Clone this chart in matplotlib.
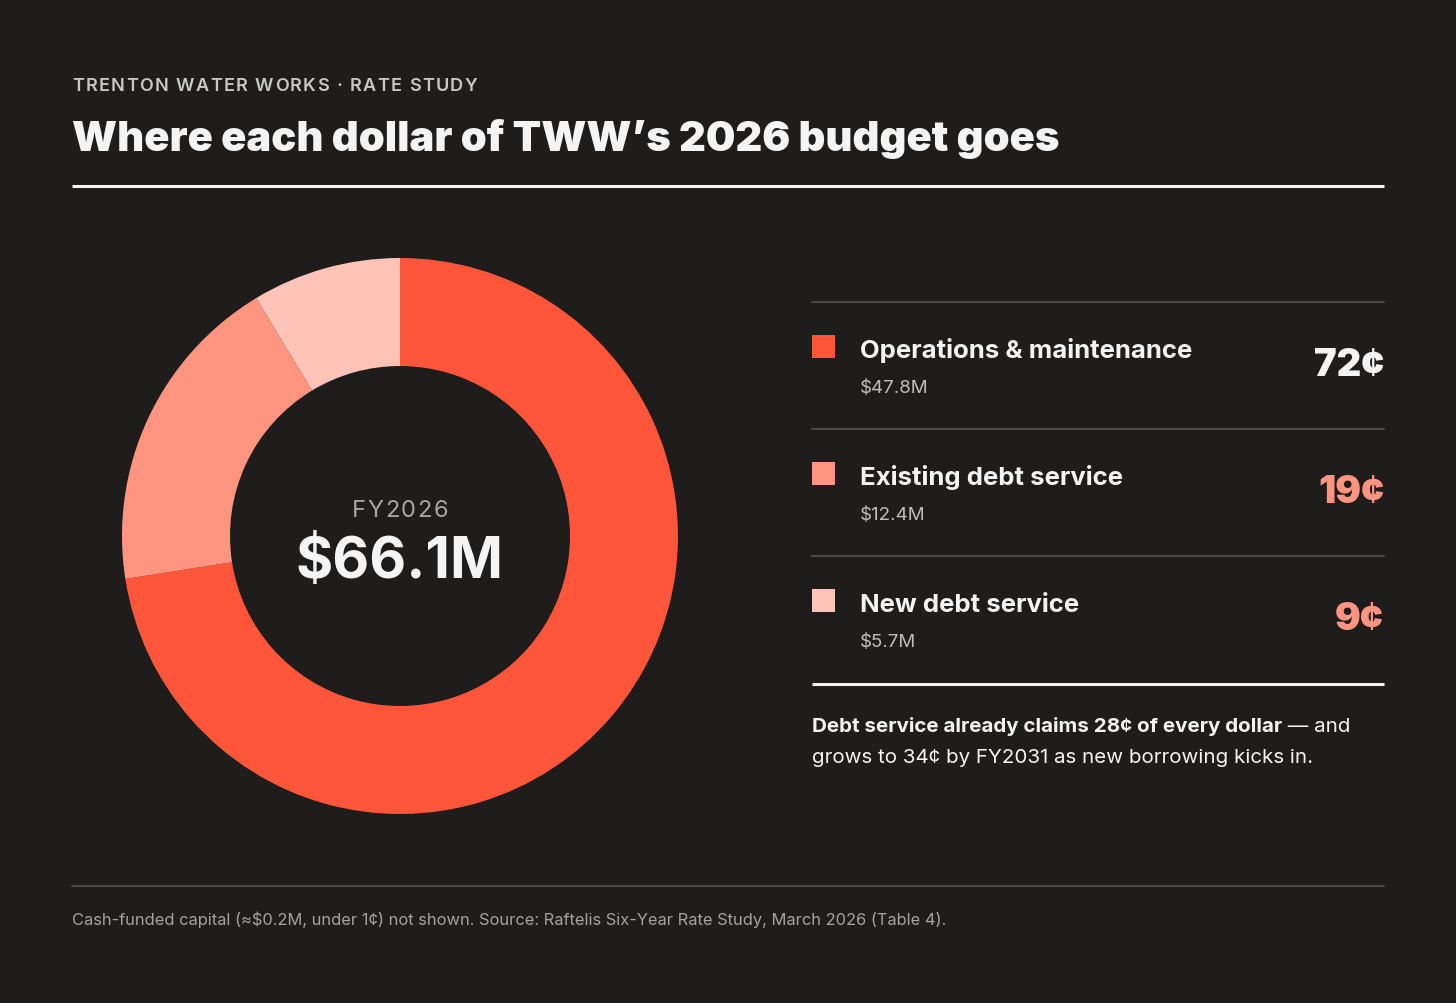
import matplotlib.pyplot as plt

W, H = 1456, 1004
BG = '#1e1d1c'

categories = ['Operations & maintenance', 'Existing debt service', 'New debt service']
amounts = [47.8, 12.4, 5.7]          # $M
amount_labels = ['$47.8M', '$12.4M', '$5.7M']
cents = [72, 19, 9]
colors = ['#ff553a', '#ff9580', '#ffc3b7']
cent_colors = ['#f4f4f4', '#ff9580', '#ff9580']
year_label = 'FY2026'
total_label = '$66.1M'

kicker = 'TRENTON WATER WORKS · RATE STUDY'
title = 'Where each dollar of TWW\u2019s 2026 budget goes'
note_bold = 'Debt service already claims 28¢ of every dollar'
note_rest = ' \u2014 and'
note_line2 = 'grows to 34¢ by FY2031 as new borrowing kicks in.'
footnote = ('Cash-funded capital (\u2248$0.2M, under 1¢) not shown. '
            'Source: Raftelis Six-Year Rate Study, March 2026 (Table 4).')

plt.rcParams['font.family'] = ['Inter', 'DejaVu Sans']

fig = plt.figure(figsize=(W / 100, H / 100), dpi=100, facecolor=BG)
ax = fig.add_axes([0, 0, 1, 1])
ax.set_xlim(0, W)
ax.set_ylim(H, 0)
ax.axis('off')
renderer = fig.canvas.get_renderer()


def text_width(t):
    return t.get_window_extent(renderer).width


def tracked(x, y, s, spacing, ha='left', **kw):
    # matplotlib has no letter-spacing, so place glyphs one by one
    widths = []
    for ch in s:
        if ch == ' ':
            a = ax.text(0, 0, 'a a', **kw)
            b = ax.text(0, 0, 'aa', **kw)
            widths.append(text_width(a) - text_width(b))
            a.remove(); b.remove()
        else:
            t = ax.text(0, 0, ch, **kw)
            widths.append(text_width(t))
            t.remove()
    total = sum(widths) + spacing * (len(s) - 1)
    if ha == 'center':
        x -= total / 2
    for ch, w in zip(s, widths):
        if ch != ' ':
            ax.text(x, y, ch, va='baseline', ha='left', **kw)
        x += w + spacing


# header
tracked(72, 91, kicker, 1.4, fontsize=13, fontweight='semibold', color='#c8c8c8')
ax.text(72, 151, title, fontsize=30, fontweight='black', color='#f4f4f4', va='baseline')
ax.plot([72, 1384], [187, 187], color='#f4f4f4', lw=2.2, solid_capstyle='butt')

# donut
cx, cy, R = 400, 537, 278
pie_ax = fig.add_axes([(cx - R) / W, (H - cy - R) / H, 2 * R / W, 2 * R / H])
pie_ax.pie(amounts, colors=colors, startangle=90, counterclock=False, radius=1,
           wedgeprops=dict(width=108 / R, linewidth=0))
pie_ax.set_xlim(-1, 1)
pie_ax.set_ylim(-1, 1)
pie_ax.set_aspect('equal')
pie_ax.axis('off')

tracked(cx, 517, year_label, 1.5, ha='center', fontsize=17, color='#a6a6a6')
ax.text(cx, 578, total_label, fontsize=41, fontweight='bold', color='#f4f4f4',
        ha='center', va='baseline')

# legend rows
x0, x1 = 812, 1384
row_h = 127
for i, (name, amt, c, col, ccol) in enumerate(zip(categories, amount_labels, cents,
                                                 colors, cent_colors)):
    top = 303 + i * row_h
    ax.plot([x0, x1], [top, top], color='#5a5958', lw=1.1)
    ax.add_patch(plt.Rectangle((x0, top + 33), 23, 23, color=col, lw=0))
    ax.text(860, top + 55, name, fontsize=18.5, fontweight='bold', color='#f4f4f4',
            va='baseline')
    ax.text(860, top + 90, amt, fontsize=13.5, color='#bdbdbd', va='baseline')
    ax.text(x1, top + 73, f'{c}¢', fontsize=27.5, fontweight='black', color=ccol,
            ha='right', va='baseline')
ax.plot([x0, x1], [685, 685], color='#f4f4f4', lw=2.2, solid_capstyle='butt')

# takeaway note
nb = ax.text(x0, 732, note_bold, fontsize=14.8, fontweight='bold', color='#f4f4f4',
             va='baseline')
ax.text(x0 + text_width(nb), 732, note_rest, fontsize=14.8, color='#f4f4f4',
        va='baseline')
ax.text(x0, 763, note_line2, fontsize=14.8, color='#f4f4f4', va='baseline')

# footer
ax.plot([72, 1384], [887, 887], color='#5a5958', lw=1.1)
ax.text(72, 925, footnote, fontsize=11.85, color='#a3a3a3', va='baseline')

fig.savefig('out.png', dpi=100, facecolor=BG)
